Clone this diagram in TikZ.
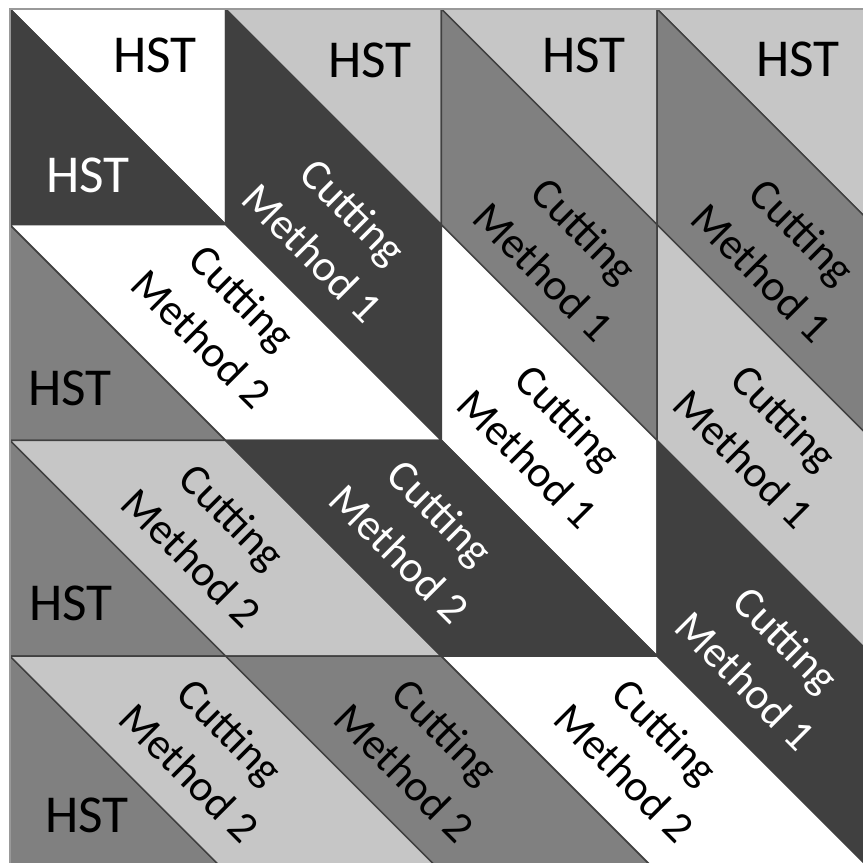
\documentclass[tikz,border=0pt]{standalone}
\usepackage{fontspec}
\setmainfont{Carlito}
\definecolor{lightg}{RGB}{198,198,198}
\definecolor{midg}{RGB}{128,128,128}
\definecolor{darkg}{RGB}{64,64,64}
\begin{document}
\begin{tikzpicture}[x=0.3pt,y=-0.3pt,
  piece/.style={draw=black!75, line width=0.45pt, line join=round},
  pcw/.style={piece, fill=white},
  pcl/.style={piece, fill=lightg},
  pcm/.style={piece, fill=midg},
  pcd/.style={piece, fill=darkg},
  hst/.style={font=\fontsize{16}{19}\selectfont, inner sep=0pt},
  cut/.style={font=\fontsize{13.2}{17.4}\selectfont, align=center, rotate=-45, inner sep=0pt},
  ]
\useasboundingbox (0,0) rectangle (863,863);
\fill[white] (0,0) rectangle (863,863);
\clip (0,0) rectangle (863,863);
\foreach \i in {0,...,4}{
  \foreach \j in {0,...,4}{
    \coordinate (p\i\j) at ({10+215.7*\i},{9+215.7*\j});
  }
}
% half-square triangles, top row and left column
\filldraw[pcw] (p00) -- (p10) -- (p11) -- cycle;
\filldraw[pcd] (p00) -- (p11) -- (p01) -- cycle;
\filldraw[pcl] (p10) -- (p20) -- (p21) -- cycle;
\filldraw[pcl] (p20) -- (p30) -- (p31) -- cycle;
\filldraw[pcl] (p30) -- (p40) -- (p41) -- cycle;
\filldraw[pcm] (p01) -- (p12) -- (p02) -- cycle;
\filldraw[pcm] (p02) -- (p13) -- (p03) -- cycle;
\filldraw[pcm] (p03) -- (p14) -- (p04) -- cycle;
% cutting method 1 (vertical parallelograms)
\filldraw[pcd] (p10) -- (p21) -- (p22) -- (p11) -- cycle;
\filldraw[pcm] (p20) -- (p31) -- (p32) -- (p21) -- cycle;
\filldraw[pcw] (p21) -- (p32) -- (p33) -- (p22) -- cycle;
\filldraw[pcm] (p30) -- (p41) -- (p42) -- (p31) -- cycle;
\filldraw[pcl] (p31) -- (p42) -- (p43) -- (p32) -- cycle;
\filldraw[pcd] (p32) -- (p43) -- (p44) -- (p33) -- cycle;
% cutting method 2 (horizontal parallelograms)
\filldraw[pcw] (p01) -- (p11) -- (p22) -- (p12) -- cycle;
\filldraw[pcl] (p02) -- (p12) -- (p23) -- (p13) -- cycle;
\filldraw[pcd] (p12) -- (p22) -- (p33) -- (p23) -- cycle;
\filldraw[pcl] (p03) -- (p13) -- (p24) -- (p14) -- cycle;
\filldraw[pcm] (p13) -- (p23) -- (p34) -- (p24) -- cycle;
\filldraw[pcw] (p23) -- (p33) -- (p44) -- (p34) -- cycle;
% outer frame
\draw[gray!80, line width=0.8pt] (p04) -- (p00) -- (p40);
% labels
\node[hst] (h1) at (155,55) {HST};
\node[hst, text=white] (h2) at (88,175) {HST};
\node[hst] (h3) at (370,60) {HST};
\node[hst] (h4) at (584,55) {HST};
\node[hst] (h5) at (798,59) {HST};
\node[hst] (h6) at (70,388) {HST};
\node[hst] (h7) at (71,603) {HST};
\node[hst] (h8) at (87,815) {HST};
\node[cut, text=white] (c1) at (333,232) {Cutting\\Method 1};
\node[cut] (c2) at (564,251) {Cutting\\Method 1};
\node[cut] (c3) at (782,252) {Cutting\\Method 1};
\node[cut] (c4) at (548,438) {Cutting\\Method 1};
\node[cut] (c5) at (764,438) {Cutting\\Method 1};
\node[cut, text=white] (c6) at (766,660) {Cutting\\Method 1};
\node[cut] (c7) at (222,318) {Cutting\\Method 2};
\node[cut] (c8) at (212,537) {Cutting\\Method 2};
\node[cut, text=white] (c9) at (420,533) {Cutting\\Method 2};
\node[cut] (c10) at (210,752) {Cutting\\Method 2};
\node[cut] (c11) at (425,752) {Cutting\\Method 2};
\node[cut] (c12) at (645,752) {Cutting\\Method 2};
\end{tikzpicture}
\end{document}
